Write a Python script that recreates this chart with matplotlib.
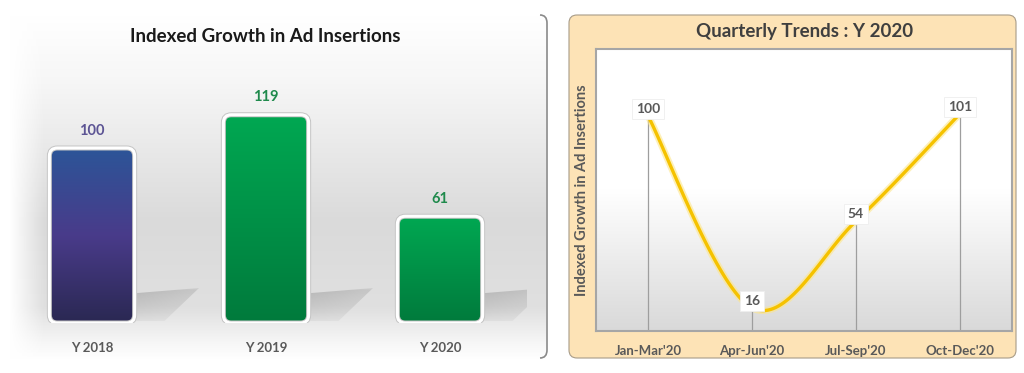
import numpy as np
import matplotlib
matplotlib.use('Agg')
import matplotlib.pyplot as plt
from matplotlib.patches import FancyBboxPatch, Polygon, PathPatch
from matplotlib.path import Path
from matplotlib.colors import to_rgb

plt.rcParams['font.family'] = ['Lato', 'DejaVu Sans']

# -------- data -------- #
years = ['Y 2018', 'Y 2019', 'Y 2020']
growth = [100, 119, 61]
quarters = ["Jan-Mar'20", "Apr-Jun'20", "Jul-Sep'20", "Oct-Dec'20"]
q_growth = [100, 16, 54, 101]

W, H = 1024, 373
GREY_TXT = '#595959'


def gradient(stops, n=256):
    pos = [s[0] for s in stops]
    cols = np.array([to_rgb(s[1]) for s in stops])
    t = np.linspace(0, 1, n)
    return np.stack([np.interp(t, pos, cols[:, k]) for k in range(3)], axis=-1)


def fig_rect(x0, y0, x1, y1):
    # pixel box (origin top-left) -> figure fraction
    return [x0 / W, (H - y1) / H, (x1 - x0) / W, (y1 - y0) / H]


def smooth(xs, ys, n=40):
    # bezier smoothing like a spreadsheet "smoothed line"
    pts = np.column_stack([xs, ys]).astype(float)
    ext = np.vstack([pts[0], pts, pts[-1]])
    out = []
    for i in range(len(pts) - 1):
        p0, p3 = pts[i], pts[i + 1]
        c1 = p0 + (ext[i + 2] - ext[i]) / 6
        c2 = p3 - (ext[i + 3] - ext[i + 1]) / 6
        t = np.linspace(0, 1, n)[:, None]
        seg = ((1 - t) ** 3) * p0 + 3 * ((1 - t) ** 2) * t * c1 + 3 * (1 - t) * t ** 2 * c2 + t ** 3 * p3
        out.append(seg if i == 0 else seg[1:])
    out = np.vstack(out)
    return out[:, 0], out[:, 1]


fig = plt.figure(figsize=(W / 100, H / 100), dpi=100)
fig.patch.set_facecolor('white')

# -------- background layer (pixel coords) -------- #
bg = fig.add_axes([0, 0, 1, 1], zorder=0)
bg.set_xlim(0, W)
bg.set_ylim(H, 0)
bg.axis('off')

left_bg = gradient([(0, '#ffffff'), (0.2, '#f6f6f6'), (0.6, '#dadada'),
                    (0.85, '#e0e0e0'), (0.95, '#f6f6f6'), (1, '#ffffff')])
bg.imshow(left_bg[:, None, :], extent=[10, 546, 360, 15], aspect='auto', zorder=0)
fade = np.ones((1, 64, 4))
fade[0, :, 3] = np.linspace(1, 0, 64)
bg.imshow(fade, extent=[10, 45, 360, 15], aspect='auto', zorder=0.5)

# bracket closing the left panel
verts = [(540, 15), (547, 15), (547, 23), (547, 350), (547, 358), (540, 358)]
codes = [Path.MOVETO, Path.CURVE3, Path.CURVE3, Path.LINETO, Path.CURVE3, Path.CURVE3]
bg.add_patch(PathPatch(Path(verts, codes), fc='none', ec='#8a8a8a', lw=1.2))

# beige frame of the right panel
bg.add_patch(FancyBboxPatch((569, 15), 447, 343, boxstyle='round,pad=0,rounding_size=8',
                            fc='#fde3b6', ec='#a89c88', lw=0.8))

bg.text(265, 37, 'Indexed Growth in Ad Insertions', ha='center', va='center',
        fontsize=13.5, fontweight='bold', color='#1a1a1a')
bg.text(805, 31, 'Quarterly Trends : Y 2020', ha='center', va='center',
        fontsize=13.5, fontweight='bold', color='#3f3f3f')

# -------- left: bar chart -------- #
ax1 = fig.add_axes(fig_rect(5, 43, 527, 323), zorder=1)
ax1.set_xlim(-0.5, 2.5)
ax1.set_ylim(0, 160)
px_x = 522 / 3
px_y = 280 / 160
bw = 0.49
rad = 8 / px_x

grads = [gradient([(0, '#2c5598'), (0.5, '#493b8a'), (1, '#2a2852')]),
         gradient([(0, '#00a852'), (1, '#007a3c')]),
         gradient([(0, '#00a852'), (1, '#007a3c')])]
lab_cols = ['#5c5494', '#1f8a4c', '#1f8a4c']

# shadow: darker near the top edge, fading towards the floor and to the right
vert = np.linspace(0.34, 0.08, 48)      # row 0 = top
vert[:5] *= np.linspace(0.45, 1, 5)     # soft top edge
horiz = np.linspace(1, 0.6, 48)
shimg = np.zeros((48, 48, 4))
shimg[..., :3] = 0.4
shimg[..., 3] = np.outer(vert, horiz)

for i, v in enumerate(growth):
    x0 = i - bw / 2
    xr = i + bw / 2
    # floor shadow to the right of the bar
    sh = Polygon([(xr, 1), (xr, 17), (xr + 0.37, 20), (xr + 0.17, 1)], closed=True,
                 fc='none', ec='none')
    ax1.add_patch(sh)
    im = ax1.imshow(shimg, extent=[xr, xr + 0.37, 1, 20], aspect='auto', zorder=1,
                    interpolation='bilinear')
    im.set_clip_path(sh)

    box = FancyBboxPatch((x0, 0), bw, v, boxstyle=f'round,pad=0,rounding_size={rad}',
                         mutation_aspect=px_x / px_y, fc='none', ec='none')
    ax1.add_patch(box)
    im = ax1.imshow(grads[i][:, None, :], extent=[x0, xr, 0, v], aspect='auto', zorder=2)
    im.set_clip_path(box)
    for ec, lw in [('#c4c4c4', 3.6), ('white', 2.2)]:
        ax1.add_patch(FancyBboxPatch((x0, 0), bw, v, boxstyle=f'round,pad=0,rounding_size={rad}',
                                     mutation_aspect=px_x / px_y, fc='none', ec=ec, lw=lw, zorder=3))
    ax1.text(i, v + 10, str(v), ha='center', va='center', fontsize=10.5,
             fontweight='bold', color=lab_cols[i])

ax1.set_xlim(-0.5, 2.5)
ax1.set_ylim(0, 160)
ax1.patch.set_visible(False)
for s in ax1.spines.values():
    s.set_visible(False)
ax1.set_yticks([])
ax1.set_xticks(range(len(years)), years, fontsize=9.5, fontweight='bold', color=GREY_TXT)
ax1.tick_params(axis='x', length=0, pad=14)

# -------- right: quarterly line -------- #
ax2 = fig.add_axes(fig_rect(596, 49, 1012, 331), zorder=1)
y_lo, y_hi = 5.9, 129.3
inner = gradient([(0, '#ffffff'), (0.5, '#ffffff'), (1, '#d9d9d9')])
ax2.imshow(inner[:, None, :], extent=[-0.5, 3.5, y_lo, y_hi], aspect='auto', zorder=0)
xq = np.arange(len(quarters))
ax2.vlines(xq, y_lo, q_growth, color='#9e9e9e', lw=0.9, zorder=1)
sx, sy = smooth(xq, q_growth)
ax2.plot(sx, sy, color='#fde68a', lw=5, alpha=0.6, zorder=2, solid_capstyle='round')
ax2.plot(sx, sy, color='#f5c200', lw=2.4, zorder=3, solid_capstyle='round')
for i, v in enumerate(q_growth):
    ax2.annotate(str(v), (i, v), xytext=(0, 7), textcoords='offset pixels',
                 ha='center', va='center', fontsize=10, fontweight='bold', color=GREY_TXT,
                 bbox=dict(boxstyle='square,pad=0.3', fc='white', ec='#eeeeee', lw=0.6), zorder=4)

ax2.set_xlim(-0.5, 3.5)
ax2.set_ylim(y_lo, y_hi)
for s in ax2.spines.values():
    s.set_color('#a6a6a6')
    s.set_linewidth(1.5)
ax2.set_yticks([])
ax2.set_xticks(xq, quarters, fontsize=9.5, fontweight='bold', color=GREY_TXT)
ax2.tick_params(axis='x', length=0, pad=10)
ax2.set_ylabel('Indexed Growth in Ad Insertions', fontsize=10.5, fontweight='bold',
               color=GREY_TXT, labelpad=5)

fig.savefig('out.png', dpi=100)
